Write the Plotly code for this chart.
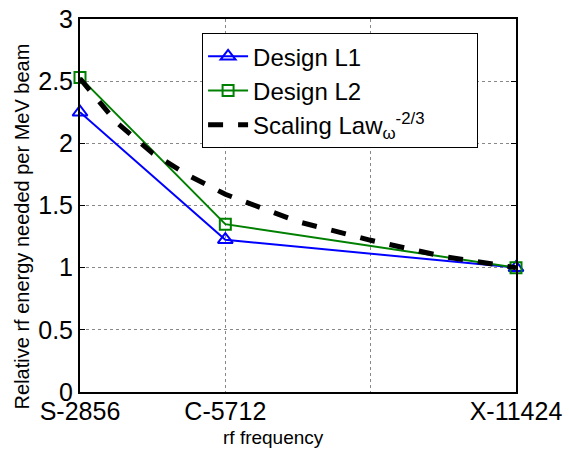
import plotly.graph_objects as go

freq = [2856, 5712, 11424]
design_l1 = [2.25, 1.225, 1.0]
design_l2 = [2.53, 1.35, 1.0]
law_freq = [2856, 3570, 4284, 4998, 5712, 7140, 8568, 9996, 11424]
law_vals = [2.52, 2.17, 1.92, 1.74, 1.59, 1.37, 1.22, 1.09, 1.0]
tick_vals = [2856, 5712, 8568, 11424]
tick_text = ["S-2856", "C-5712", "", "X-11424"]
y_ticks = [0, 0.5, 1, 1.5, 2, 2.5, 3]
y_tick_text = ["0", "0.5", "1", "1.5", "2", "2.5", "3"]

fig = go.Figure()
fig.add_trace(go.Scatter(x=freq, y=design_l1, mode="lines+markers", name="Design L1",
                         line=dict(color="#0000ff", width=2),
                         marker=dict(symbol="triangle-up-open", size=13, color="#0000ff", line=dict(width=2)),
                         cliponaxis=False))
fig.add_trace(go.Scatter(x=freq, y=design_l2, mode="lines+markers", name="Design L2",
                         line=dict(color="#008000", width=2),
                         marker=dict(symbol="square-open", size=11, color="#008000", line=dict(width=2)),
                         cliponaxis=False))
fig.add_trace(go.Scatter(x=law_freq, y=law_vals, mode="lines",
                         name="Scaling Law<sub>ω</sub><sup>-2/3</sup>" + "\u00a0" * 7,
                         line=dict(color="black", width=5, dash="dash"), cliponaxis=False))

fig.update_layout(
    width=569, height=454,
    margin=dict(l=80, r=53, t=19, b=62),
    paper_bgcolor="white", plot_bgcolor="white",
    font=dict(family="Liberation Sans, Arial, sans-serif", color="black"),
    showlegend=True,
    legend=dict(x=0.28, y=0.962, xanchor="left", yanchor="top",
                bordercolor="black", borderwidth=1, bgcolor="white",
                font=dict(size=24), tracegroupgap=0, itemwidth=40),
    annotations=[
        dict(text="Relative rf energy needed per MeV beam", textangle=-90,
             xref="paper", yref="paper", x=-0.133, y=0.444, xanchor="center", yanchor="middle",
             showarrow=False, font=dict(size=20)),
        dict(text="rf frequency", xref="paper", yref="paper", x=0.4427, y=-0.1233,
             xanchor="center", yanchor="middle", showarrow=False, font=dict(size=19)),
    ],
)
fig.update_xaxes(range=[2856, 11424], tickvals=tick_vals, ticktext=tick_text,
                 showgrid=True, gridcolor="#888", griddash="dot", gridwidth=1,
                 showline=True, linecolor="black", linewidth=2, mirror=True,
                 ticks="", tickfont=dict(size=25), zeroline=False, ticklabelstandoff=-4,
                 automargin=False)
fig.update_yaxes(range=[0, 3], tickvals=y_ticks, ticktext=y_tick_text,
                 showgrid=True, gridcolor="#888", griddash="dot", gridwidth=1,
                 showline=True, linecolor="black", linewidth=2, mirror="ticks",
                 ticks="inside", ticklen=5, tickcolor="black",
                 tickfont=dict(size=25), zeroline=False, ticklabelstandoff=0,
                 automargin=False)

fig.write_html("out.html", config={"displayModeBar": False},
               post_script="document.body.style.margin='0';")
